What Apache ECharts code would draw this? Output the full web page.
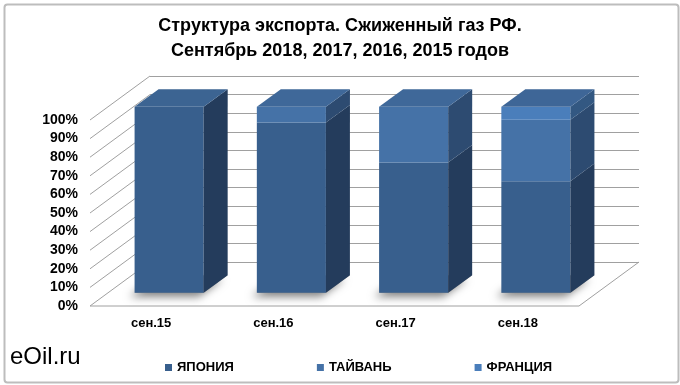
<!DOCTYPE html>
<html><head><meta charset="utf-8">
<script src="https://cdn.jsdelivr.net/npm/echarts@6/dist/echarts.min.js"></script>
<style>html,body{margin:0;padding:0;background:#fff}#c{width:680px;height:385px}</style>
</head><body><div id="c"></div>
<script>
const categories = ['сен.15', 'сен.16', 'сен.17', 'сен.18'];
const seriesNames = ['ЯПОНИЯ', 'ТАЙВАНЬ', 'ФРАНЦИЯ'];
const japan = [100, 91.5, 70, 60];
const taiwan = [0, 8.5, 30, 33];
const france = [0, 0, 0, 7];
const yTicks = [0, 10, 20, 30, 40, 50, 60, 70, 80, 90, 100];
const titleText = 'Структура экспорта. Сжиженный газ РФ.\nСентябрь 2018, 2017, 2016, 2015 годов';
const watermark = 'eOil.ru';

const values = [japan, taiwan, france];
const FONT = 'Arial, "Liberation Sans", sans-serif';
const FRONT = { left: 90, top: 120, width: 489, height: 186 };
const DX = 60, DY = -44;          // depth vector of the 3D box
const FRONT_F = 0.3, BACK_F = 0.7; // bar depth placement
const BAR_W = 0.565;
const GRID_COLOR = '#a0a0a0';
const faceColors = [
  { front: '#385F8D', side: '#243C5C', top: '#3C6492' },
  { front: '#4572A7', side: '#2D4B71', top: '#3F6899' },
  { front: '#4A7EBB', side: '#335882', top: '#3E6697' }
];

function barRender(k) {
  return function (params, api) {
    const i = api.value(0);
    const v = api.value(1);
    if (!v) return null;
    let base = 0;
    for (let j = 0; j < k; j++) base += values[j][i];
    let total = 0;
    for (let j = 0; j < values.length; j++) total += values[j][i];
    const pb = api.coord([i, base]);
    const pt = api.coord([i, base + v]);
    const bw = api.size([1, 0])[0] * BAR_W;
    const fx = DX * FRONT_F, fy = DY * FRONT_F;
    const dx = DX * (BACK_F - FRONT_F), dy = DY * (BACK_F - FRONT_F);
    const xl = pb[0] - bw / 2 + fx, xr = xl + bw;
    const yb = pb[1] + fy, yt = pt[1] + fy;
    const c = faceColors[k];
    const children = [];
    if (base === 0) {
      children.push({
        type: 'polygon',
        shape: { points: [[xl, yb], [xr, yb], [xr + dx, yb + dy], [xl + dx, yb + dy]] },
        style: { fill: '#888', shadowBlur: 9, shadowColor: 'rgba(0,0,0,0.5)', shadowOffsetX: -5, shadowOffsetY: 4 }
      });
    }
    children.push({
      type: 'polygon',
      shape: { points: [[xl, yb], [xr, yb], [xr, yt], [xl, yt]] },
      style: { fill: c.front }
    });
    children.push({
      type: 'polygon',
      shape: { points: [[xr, yb], [xr + dx, yb + dy], [xr + dx, yt + dy], [xr, yt]] },
      style: { fill: c.side }
    });
    if (Math.abs(base + v - total) < 1e-6) {
      children.push({
        type: 'polygon',
        shape: { points: [[xl, yt], [xr, yt], [xr + dx, yt + dy], [xl + dx, yt + dy]] },
        style: { fill: c.top }
      });
    }
    return { type: 'group', children: children };
  };
}

function wallRender(params, api) {
  const cs = params.coordSys;
  const t = api.value(1);
  const y = api.coord([0, t])[1];
  const L = cs.x, R = cs.x + cs.width;
  const st = { stroke: GRID_COLOR, lineWidth: 1 };
  const children = [{ type: 'line', shape: { x1: L, y1: y, x2: L + DX, y2: y + DY }, style: st }];
  if (t === 0) {
    children.push({ type: 'line', shape: { x1: L, y1: y, x2: R, y2: y }, style: st });
    children.push({ type: 'line', shape: { x1: R, y1: y, x2: R + DX, y2: y + DY }, style: st });
  }
  return { type: 'group', children: children };
}

const chart = echarts.init(document.getElementById('c'));
const series = [{
  type: 'custom', xAxisIndex: 0, yAxisIndex: 0, z: 1, silent: true,
  renderItem: wallRender,
  data: yTicks.map(t => [0, t])
}];
values.forEach((arr, k) => {
  series.push({
    type: 'custom', name: seriesNames[k], xAxisIndex: 0, yAxisIndex: 0, z: 3,
    itemStyle: { color: faceColors[k].front },
    renderItem: barRender(k),
    data: arr.map((v, i) => [i, v])
  });
});

chart.setOption({
  animation: false,
  backgroundColor: '#fff',
  title: {
    text: titleText, left: 'center', top: 9,
    textStyle: { fontFamily: FONT, fontSize: 18, fontWeight: 'bold', color: '#000', lineHeight: 25 }
  },
  legend: {
    data: seriesNames, left: 160, top: 356, icon: 'rect', itemWidth: 7, itemHeight: 7, itemGap: 83,
    textStyle: { fontFamily: FONT, fontSize: 13, fontWeight: 'bold', color: '#000' }
  },
  grid: [
    { left: FRONT.left, top: FRONT.top, width: FRONT.width, height: FRONT.height },
    { left: FRONT.left + DX, top: FRONT.top + DY, width: FRONT.width, height: FRONT.height }
  ],
  xAxis: [
    {
      type: 'category', gridIndex: 0, data: categories,
      axisLine: { show: false }, axisTick: { show: false },
      axisLabel: { margin: 11, fontFamily: FONT, fontSize: 13, fontWeight: 'bold', color: '#000' }
    },
    { type: 'category', gridIndex: 1, data: categories, show: false }
  ],
  yAxis: [
    {
      type: 'value', gridIndex: 0, min: 0, max: 100, interval: 10,
      axisLine: { show: false }, axisTick: { show: false }, splitLine: { show: false },
      axisLabel: { formatter: '{value}%', margin: 12, fontFamily: FONT, fontSize: 14, fontWeight: 'bold', color: '#000' }
    },
    {
      type: 'value', gridIndex: 1, min: 0, max: 100, interval: 10,
      axisLine: { show: false }, axisTick: { show: false }, axisLabel: { show: false },
      splitLine: { show: true, lineStyle: { color: GRID_COLOR, width: 1 } }
    }
  ],
  graphic: [
    {
      type: 'rect', left: 2, top: 2, silent: true,
      shape: { width: 674, height: 378, r: 3 },
      style: { fill: 'none', stroke: '#bdbdbd', lineWidth: 2 }
    },
    {
      type: 'text', left: 10, top: 345, silent: true,
      style: { text: watermark, fontFamily: FONT, fontSize: 24, fill: '#000' }
    }
  ],
  series: series
});
</script></body></html>
